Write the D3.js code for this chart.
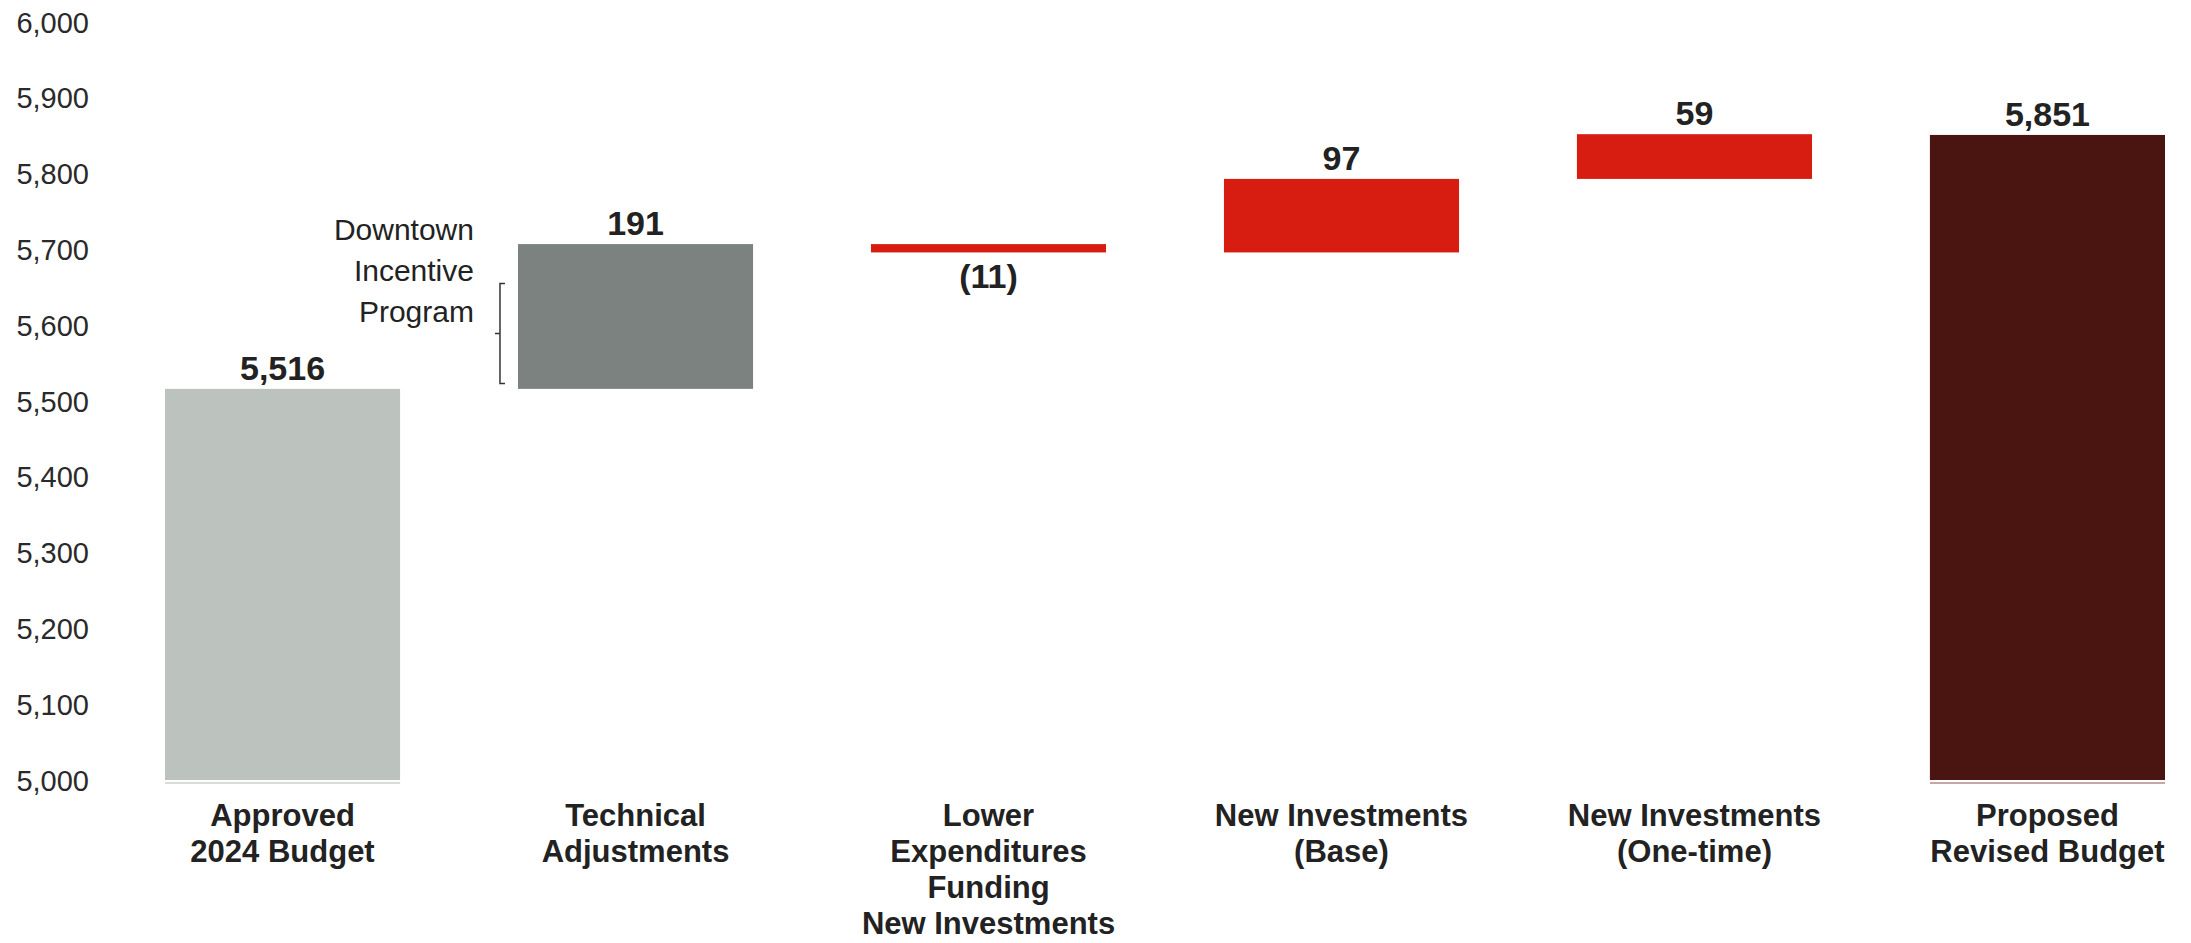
<!DOCTYPE html>
<html>
<head>
<meta charset="utf-8">
<script src="https://cdn.jsdelivr.net/npm/d3@7"></script>
<style>
  html, body { margin: 0; padding: 0; background: #ffffff; }
  svg { display: block; }
  text { font-family: "Liberation Sans", Arial, sans-serif; }
</style>
</head>
<body>
<svg id="chart" width="2191" height="943"></svg>
<script>
// ---- data ----
const categoryLines = [
  ["Approved", "2024 Budget"],
  ["Technical", "Adjustments"],
  ["Lower", "Expenditures", "Funding", "New Investments"],
  ["New Investments", "(Base)"],
  ["New Investments", "(One-time)"],
  ["Proposed", "Revised Budget"]
];
const startTotal = 5516;
const changes = [191, -11, 97, 59];
const endTotal = 5851;
const valueLabels = ["5,516", "191", "(11)", "97", "59", "5,851"];
const barColors = ["#bcc3bf", "#7c827f", "#d71d12", "#d71d12", "#d71d12", "#4a1411"];
const yTicks = [5000, 5100, 5200, 5300, 5400, 5500, 5600, 5700, 5800, 5900, 6000];
const yDomain = [5000, 6000];
const noteLines = ["Downtown", "Incentive", "Program"];
const noteRange = [5523, 5655];

// ---- build waterfall segments ----
const bars = [];
bars.push({ i: 0, y0: yDomain[0], y1: startTotal, label: valueLabels[0], neg: false });
let run = startTotal;
changes.forEach((c, k) => {
  const a = run, b = run + c;
  bars.push({ i: k + 1, y0: Math.min(a, b), y1: Math.max(a, b), label: valueLabels[k + 1], neg: c < 0 });
  run = b;
});
bars.push({ i: 5, y0: yDomain[0], y1: endTotal, label: valueLabels[5], neg: false });

// ---- scales ----
const svg = d3.select("#chart");
const x = d3.scaleBand().domain(d3.range(categoryLines.length))
  .range([165, 2165]).paddingInner(0.334).paddingOuter(0);
const y = d3.scaleLinear().domain(yDomain).range([780, 22]);

// ---- y axis ----
const yAxis = d3.axisLeft(y).tickValues(yTicks).tickFormat(d3.format(",")).tickSize(0).tickPadding(0);
const gy = svg.append("g").attr("transform", "translate(89,0)").call(yAxis);
gy.select(".domain").remove();
gy.selectAll("text").attr("font-family", "Liberation Sans, Arial, sans-serif")
  .attr("font-size", 29).attr("fill", "#2a2a2a").attr("dy", "0.35em");

// ---- bars ----
svg.append("g").selectAll("rect").data(bars).join("rect")
  .attr("x", d => x(d.i))
  .attr("width", x.bandwidth())
  .attr("y", d => y(d.y1))
  .attr("height", d => Math.max(1, y(d.y0) - y(d.y1)))
  .attr("fill", (d) => barColors[d.i]);

// baseline shadow under total bars
svg.append("g").selectAll("rect").data(bars.filter(d => d.y0 === yDomain[0])).join("rect")
  .attr("x", d => x(d.i))
  .attr("width", x.bandwidth())
  .attr("y", y(yDomain[0]) + 2)
  .attr("height", 2)
  .attr("fill", d => d.i === 0 ? "#d9dcdb" : "#c9a7a5");

// ---- value labels ----
svg.append("g").selectAll("text").data(bars).join("text")
  .attr("x", d => x(d.i) + x.bandwidth() / 2)
  .attr("y", d => d.neg ? y(d.y0) + 36 : y(d.y1) - 9)
  .attr("text-anchor", "middle")
  .attr("font-size", 34)
  .attr("font-weight", "bold")
  .attr("fill", "#222")
  .text(d => d.label);

// ---- category labels ----
const cat = svg.append("g").selectAll("text").data(categoryLines).join("text")
  .attr("x", (d, i) => x(i) + x.bandwidth() / 2)
  .attr("y", 826)
  .attr("text-anchor", "middle")
  .attr("font-size", 31)
  .attr("font-weight", "bold")
  .attr("fill", "#222");
cat.each(function(lines, i) {
  d3.select(this).selectAll("tspan").data(lines).join("tspan")
    .attr("x", x(i) + x.bandwidth() / 2)
    .attr("dy", (d, k) => k === 0 ? 0 : 36)
    .text(d => d);
});

// ---- annotation: Downtown Incentive Program with bracket ----
const bx = x(1) - 18;
const bTop = y(noteRange[1]), bBot = y(noteRange[0]), bMid = (bTop + bBot) / 2;
svg.append("path")
  .attr("d", `M${bx + 5},${bTop} H${bx} V${bBot} H${bx + 5} M${bx},${bMid} H${bx - 5}`)
  .attr("fill", "none").attr("stroke", "#333").attr("stroke-width", 1.5);
svg.append("g").selectAll("text").data(noteLines).join("text")
  .attr("x", x(1) - 44)
  .attr("y", (d, k) => bTop - 44 + k * 41)
  .attr("text-anchor", "end")
  .attr("font-size", 30)
  .attr("fill", "#222")
  .text(d => d);
</script>
</body>
</html>
